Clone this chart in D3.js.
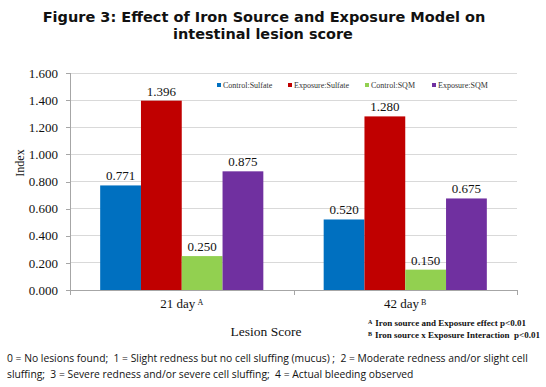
<!DOCTYPE html>
<html><head><meta charset="utf-8">
<script src="https://cdn.jsdelivr.net/npm/d3@7"></script>
<style>body{margin:0;background:#fff}svg{display:block}text{white-space:pre}</style>
</head><body>
<svg id="c" width="546" height="387"></svg>
<script>
const categories = ["21 day", "42 day"];
const categorySup = ["A", "B"];
const seriesNames = ["Control:Sulfate", "Exposure:Sulfate", "Control:SQM", "Exposure:SQM"];
const seriesColors = ["#0070C0", "#C00000", "#92D050", "#7030A0"];
const controlSulfate = [0.771, 0.520];
const exposureSulfate = [1.396, 1.280];
const controlSQM = [0.250, 0.150];
const exposureSQM = [0.875, 0.675];
const yTicks = [0, 0.2, 0.4, 0.6, 0.8, 1.0, 1.2, 1.4, 1.6];
const titleLines = ["Figure 3: Effect of Iron Source and Exposure Model on", "intestinal lesion score"];
const footnotes = [["A", "Iron source and Exposure effect p<0.01"], ["B", "Iron source x Exposure Interaction  p<0.01"]];
const noteLines = ["0 = No lesions found;  1 = Slight redness but no cell sluffing (mucus) ;  2 = Moderate redness and/or slight cell",
                   "sluffing;  3 = Severe redness and/or severe cell sluffing;  4 = Actual bleeding observed"];

const seriesValues = [controlSulfate, exposureSulfate, controlSQM, exposureSQM];
const svg = d3.select("#c");
const L = 70, R = 517, T = 73, B = 290;
const serif = "'Liberation Serif','Times New Roman',serif";

function fit(sel, w) {
  const n = sel.node();
  const cur = parseFloat(sel.attr("font-size"));
  const len = n.getComputedTextLength();
  const fs = +(cur * w / len).toFixed(2);
  sel.attr("font-size", fs);
  return fs;
}

// Title
const t1 = svg.append("text").attr("x", 264).attr("y", 22).attr("text-anchor", "middle")
  .attr("font-family", "'DejaVu Sans',Verdana,sans-serif").attr("font-weight", "bold").attr("font-size", 14).attr("fill", "#111").text(titleLines[0]);
fit(t1, 443);
const t2 = svg.append("text").attr("x", 263).attr("y", 39).attr("text-anchor", "middle")
  .attr("font-family", "'DejaVu Sans',Verdana,sans-serif").attr("font-weight", "bold").attr("font-size", 14).attr("fill", "#111").text(titleLines[1]);
fit(t2, 180);

const y = d3.scaleLinear().domain([0, 1.6]).range([B, T]);
const x0 = d3.scaleBand().domain(categories).range([L, R]).paddingInner(0.27).paddingOuter(0.135);
const x1 = d3.scaleBand().domain(seriesNames).range([0, x0.bandwidth()]).padding(0);

// gridlines
svg.append("g").selectAll("line").data(yTicks.filter(d => d > 0)).join("line")
  .attr("x1", L).attr("x2", R).attr("y1", d => y(d)).attr("y2", d => y(d))
  .attr("stroke", "#d9d9d9").attr("stroke-width", 1).attr("shape-rendering", "crispEdges");

// y axis
const yAxis = svg.append("g").attr("transform", `translate(${L},0)`)
  .call(d3.axisLeft(y).tickValues(yTicks).tickFormat(d3.format(".3f")).tickSize(4).tickPadding(8));
yAxis.select(".domain").attr("stroke", "#a6a6a6").attr("shape-rendering", "crispEdges");
yAxis.selectAll(".tick line").attr("stroke", "#a6a6a6").attr("shape-rendering", "crispEdges");
yAxis.selectAll(".tick text").attr("font-family", serif).attr("font-size", 13).attr("fill", "#111");

// bars
const groups = svg.append("g").selectAll("g").data(categories).join("g")
  .attr("transform", d => `translate(${x0(d)},0)`);
groups.selectAll("rect").data((c, ci) => seriesNames.map((s, si) => ({s, si, v: seriesValues[si][ci]}))).join("rect")
  .attr("x", d => x1(d.s)).attr("width", x1.bandwidth())
  .attr("y", d => y(d.v)).attr("height", d => B - y(d.v))
  .attr("fill", d => seriesColors[d.si]);
groups.selectAll("text.val").data((c, ci) => seriesNames.map((s, si) => ({s, si, v: seriesValues[si][ci]}))).join("text")
  .attr("class", "val")
  .attr("x", d => x1(d.s) + x1.bandwidth() / 2).attr("y", d => y(d.v) - 5)
  .attr("text-anchor", "middle").attr("font-family", serif).attr("font-size", 13).attr("fill", "#111")
  .text(d => d3.format(".3f")(d.v));

// x axis
const xb = d3.scaleLinear().domain([0, categories.length]).range([L, R]);
svg.append("line").attr("x1", L).attr("x2", R).attr("y1", B + 0.5).attr("y2", B + 0.5).attr("stroke", "#a6a6a6");
svg.append("g").selectAll("line").data(d3.range(categories.length + 1)).join("line")
  .attr("x1", d => Math.round(xb(d)) + 0.5).attr("x2", d => Math.round(xb(d)) + 0.5)
  .attr("y1", B).attr("y2", B + 5).attr("stroke", "#a6a6a6");
categories.forEach((c, i) => {
  const cx = x0(c) + x0.bandwidth() / 2;
  const tx = svg.append("text").attr("x", cx).attr("y", 308).attr("text-anchor", "middle")
    .attr("font-family", serif).attr("font-size", 13).attr("fill", "#111");
  tx.append("tspan").text(c);
  tx.append("tspan").attr("font-size", 8).attr("dx", 2).attr("dy", -3).text(categorySup[i]);
});

// axis titles
svg.append("text").attr("transform", "translate(24,163) rotate(-90)").attr("text-anchor", "middle")
  .attr("font-family", serif).attr("font-size", 12).attr("fill", "#111").text("Index");
svg.append("text").attr("x", 266).attr("y", 336).attr("text-anchor", "middle")
  .attr("font-family", serif).attr("font-size", 13.5).attr("fill", "#111").text("Lesion Score");

// legend
const legX = [217, 288, 365, 432];
const leg = svg.append("g").selectAll("g").data(seriesNames).join("g")
  .attr("transform", (d, i) => `translate(${legX[i]},85)`);
leg.append("rect").attr("x", 0).attr("y", -2).attr("width", 4).attr("height", 4).attr("fill", (d, i) => seriesColors[i]);
leg.append("text").attr("x", 6).attr("y", 3).attr("font-family", serif).attr("font-size", 8).attr("fill", "#333").text(d => d);

// footnotes
footnotes.forEach((f, i) => {
  const tx = svg.append("text").attr("x", 368).attr("y", 326 + i * 12)
    .attr("font-family", serif).attr("font-weight", "bold").attr("font-size", 9).attr("fill", "#111");
  tx.append("tspan").attr("font-size", 6).attr("dy", -2).text(f[0]);
  tx.append("tspan").attr("dx", 3).attr("dy", 2).text(f[1]);
});

// notes
let noteFs = 10;
noteLines.forEach((l, i) => {
  const tx = svg.append("text").attr("x", 7).attr("y", 362 + i * 16)
    .attr("font-family", "'Open Sans','Noto Sans',sans-serif").attr("font-size", noteFs).attr("fill", "#111").text(l);
  if (i === 0) noteFs = fit(tx, 521);
});
</script>
</body></html>
